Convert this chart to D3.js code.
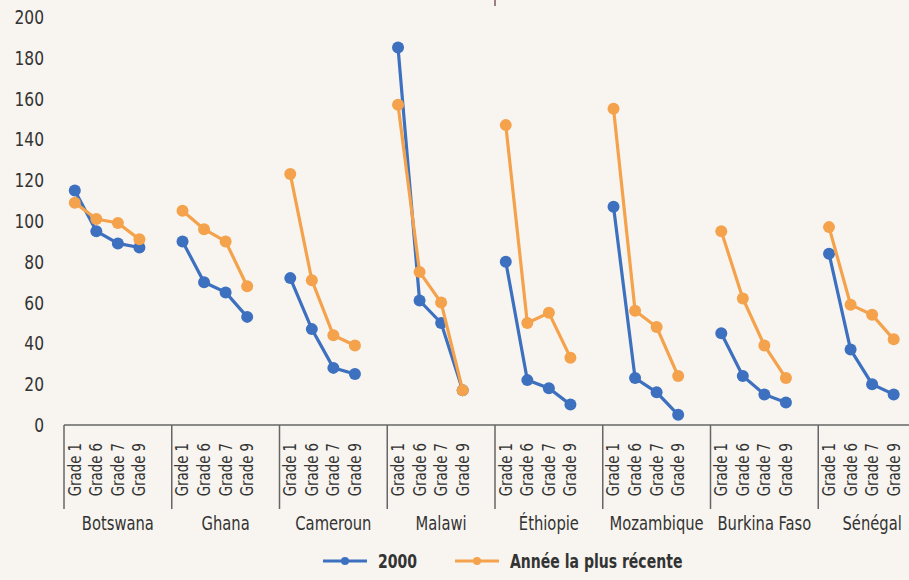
<!DOCTYPE html>
<html>
<head>
<meta charset="utf-8">
<script src="https://cdn.jsdelivr.net/npm/d3@7"></script>
<style>
  html, body { margin: 0; padding: 0; background: #f8f5f0; }
  svg { display: block; }
  text { font-family: "Liberation Sans Narrow", "DejaVu Sans Condensed", "Roboto Condensed", sans-serif; fill: #333; }
</style>
</head>
<body>
<div id="chart"></div>
<script>
const WIDTH = 909;
const HEIGHT = 580;

const countries = ['Botswana', 'Ghana', 'Cameroun', 'Malawi', 'Éthiopie', 'Mozambique', 'Burkina Faso', 'Sénégal'];
const grades = ['Grade 1', 'Grade 6', 'Grade 7', 'Grade 9'];
const yTicks = [0, 20, 40, 60, 80, 100, 120, 140, 160, 180, 200];

// one row per country, values for Grade 1, 6, 7, 9
const values2000 = [
  [115, 95, 89, 87],
  [90, 70, 65, 53],
  [72, 47, 28, 25],
  [185, 61, 50, 17],
  [80, 22, 18, 10],
  [107, 23, 16, 5],
  [45, 24, 15, 11],
  [84, 37, 20, 15]
];
const valuesRecent = [
  [109, 101, 99, 91],
  [105, 96, 90, 68],
  [123, 71, 44, 39],
  [157, 75, 60, 17],
  [147, 50, 55, 33],
  [155, 56, 48, 24],
  [95, 62, 39, 23],
  [97, 59, 54, 42]
];

const seriesNames = ['2000', 'Année la plus récente'];
const seriesColors = ['#3d70bf', '#f4a24c'];

const svg = d3.select('#chart').append('svg')
  .attr('width', WIDTH)
  .attr('height', HEIGHT);

const x = d3.scaleBand()
  .domain(countries)
  .range([64, 926]);

// 4 grades plus one empty slot at the end of each group
const xInner = d3.scaleBand()
  .domain([...grades, ''])
  .range([0, x.bandwidth()]);

const y = d3.scaleLinear()
  .domain([0, 200])
  .range([425, 17]);

const px = (country, grade) => x(country) + xInner(grade) + xInner.bandwidth() / 2;

// y axis labels only
const yAxis = svg.append('g')
  .attr('transform', 'translate(44, 0)')
  .call(d3.axisLeft(y).tickValues(yTicks).tickSize(0).tickPadding(0));
yAxis.select('.domain').remove();
yAxis.selectAll('text')
  .style('font-family', null)
  .attr('x', null)
  .attr('transform', 'scale(0.86, 1)')
  .attr('font-size', 20)
  .attr('fill', '#333');

// category axis
const axisColor = '#666';
svg.append('line')
  .attr('x1', x.range()[0]).attr('x2', x.range()[1])
  .attr('y1', y(0)).attr('y2', y(0))
  .attr('stroke', axisColor)
  .attr('stroke-width', 1.5);

svg.selectAll('.sep')
  .data(countries)
  .join('line')
  .attr('class', 'sep')
  .attr('x1', d => x(d)).attr('x2', d => x(d))
  .attr('y1', y(0)).attr('y2', 509)
  .attr('stroke', axisColor)
  .attr('stroke-width', 1.5);

const groups = svg.selectAll('.grp')
  .data(countries)
  .join('g')
  .attr('class', 'grp');

groups.selectAll('.grade')
  .data(c => grades.map(g => [c, g]))
  .join('text')
  .attr('class', 'grade')
  .attr('transform', d => `translate(${px(d[0], d[1])}, 443) rotate(-90) scale(0.87, 1)`)
  .attr('text-anchor', 'end')
  .attr('dy', '0.35em')
  .attr('font-size', 17)
  .text(d => d[1]);

groups.append('text')
  .attr('transform', c => `translate(${x(c) + x.bandwidth() / 2}, 530) scale(0.82, 1)`)
  .attr('text-anchor', 'middle')
  .attr('font-size', 20)
  .text(c => c);

// series lines and markers
const line = d3.line()
  .x(d => px(d.country, d.grade))
  .y(d => y(d.value));

[values2000, valuesRecent].forEach((rows, si) => {
  const g = svg.append('g');
  countries.forEach((c, ci) => {
    const pts = rows[ci].map((v, gi) => ({ country: c, grade: grades[gi], value: v }));
    g.append('path')
      .datum(pts)
      .attr('d', line)
      .attr('fill', 'none')
      .attr('stroke', seriesColors[si])
      .attr('stroke-width', 3.2);
    g.selectAll(null)
      .data(pts)
      .join('circle')
      .attr('cx', d => px(d.country, d.grade))
      .attr('cy', d => y(d.value))
      .attr('r', 6)
      .attr('fill', seriesColors[si]);
  });
});

// legend
const legendX = [323, 455];
const legend = svg.append('g');
seriesNames.forEach((name, i) => {
  const lg = legend.append('g').attr('transform', `translate(${legendX[i]}, 561)`);
  lg.append('line')
    .attr('x1', 0).attr('x2', 44)
    .attr('stroke', seriesColors[i])
    .attr('stroke-width', 3);
  lg.append('circle')
    .attr('cx', 22)
    .attr('r', 4)
    .attr('fill', seriesColors[i]);
  lg.append('text')
    .attr('transform', 'translate(55, 0) scale(0.78, 1)')
    .attr('dy', '0.35em')
    .attr('font-size', 20)
    .attr('font-weight', 'bold')
    .attr('fill', '#222')
    .text(name);
});

// small mark at the top edge
svg.append('line')
  .attr('x1', 495).attr('x2', 495)
  .attr('y1', 0).attr('y2', 6)
  .attr('stroke', '#7a5a5a')
  .attr('stroke-width', 1.5);
</script>
</body>
</html>
